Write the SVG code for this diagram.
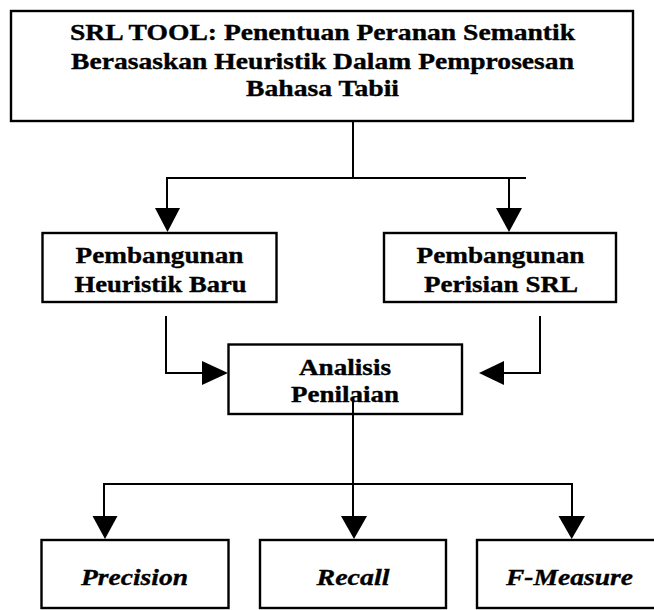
<svg xmlns="http://www.w3.org/2000/svg" width="654" height="610" viewBox="0 0 654 610">
<defs>
<style>
.box{fill:#fff;stroke:#000;stroke-width:2.4}
.t{font-family:"Liberation Serif","Times New Roman",serif;font-weight:bold;fill:#000;stroke:#000;stroke-width:0.35;text-anchor:middle}
.i{font-style:italic}
.c{fill:none;stroke:#000;stroke-width:2}
.ah{fill:#000;stroke:none}
</style>
</defs>
<rect width="654" height="610" fill="#fff"/>
<g id="connectors">
<polyline class="c" points="353,121 353,178"/>
<polyline class="c" points="167,210 167,178 526,178"/>
<polyline class="c" points="509,178 509,210"/>
<polygon class="ah" points="155,208 180,208 167.5,232"/>
<polygon class="ah" points="496,208 522,208 509,232"/>
<polyline class="c" points="166,316 166,373 204,373"/>
<polygon class="ah" points="202,361 202,385 228,373"/>
<polyline class="c" points="540,316 540,373 502,373"/>
<polygon class="ah" points="504,361 504,385 479,373"/>
<polyline class="c" points="353,400 353,518"/>
<polyline class="c" points="104,518 104,484 572,484 572,518"/>
<polygon class="ah" points="92.5,516 117.5,516 105,539"/>
<polygon class="ah" points="341,516 367,516 354,539"/>
<polygon class="ah" points="558.5,516 585,516 571.7,539"/>
</g>
<g id="top">
<rect class="box" x="11" y="11" width="622" height="110"/>
<text class="t" font-size="23" x="322.5" y="40" textLength="505" lengthAdjust="spacingAndGlyphs">SRL TOOL: Penentuan Peranan Semantik</text>
<text class="t" font-size="23" x="322.5" y="69" textLength="503" lengthAdjust="spacingAndGlyphs">Berasaskan Heuristik Dalam Pemprosesan</text>
<text class="t" font-size="23" x="322.5" y="96" textLength="153" lengthAdjust="spacingAndGlyphs">Bahasa Tabii</text>
</g>
<g id="heuristik">
<rect class="box" x="42.5" y="233" width="234" height="69"/>
<text class="t" font-size="24" x="159.5" y="263" textLength="168" lengthAdjust="spacingAndGlyphs">Pembangunan</text>
<text class="t" font-size="24" x="160.5" y="292" textLength="172" lengthAdjust="spacingAndGlyphs">Heuristik Baru</text>
</g>
<g id="perisian">
<rect class="box" x="384" y="233" width="232" height="69"/>
<text class="t" font-size="24" x="500.5" y="263" textLength="168" lengthAdjust="spacingAndGlyphs">Pembangunan</text>
<text class="t" font-size="24" x="501" y="292" textLength="154" lengthAdjust="spacingAndGlyphs">Perisian SRL</text>
</g>
<g id="analisis">
<rect class="box" x="228.5" y="344.5" width="233.5" height="69.5"/>
<text class="t" font-size="23" x="345" y="375" textLength="92" lengthAdjust="spacingAndGlyphs">Analisis</text>
<text class="t" font-size="23" x="345" y="402" textLength="108" lengthAdjust="spacingAndGlyphs">Penilaian</text>
</g>
<polyline class="c" points="353,400 353,414"/>
<g id="precision">
<rect class="box" x="41.5" y="540" width="187" height="68"/>
<text class="t i" font-size="24" x="134.5" y="585" textLength="107" lengthAdjust="spacingAndGlyphs">Precision</text>
</g>
<g id="recall">
<rect class="box" x="260" y="540" width="186" height="68"/>
<text class="t i" font-size="24" x="353" y="585" textLength="73" lengthAdjust="spacingAndGlyphs">Recall</text>
</g>
<g id="fmeasure">
<rect class="box" x="477" y="540" width="186" height="68"/>
<text class="t i" font-size="24" x="569.5" y="585" textLength="127" lengthAdjust="spacingAndGlyphs">F-Measure</text>
</g>
</svg>
